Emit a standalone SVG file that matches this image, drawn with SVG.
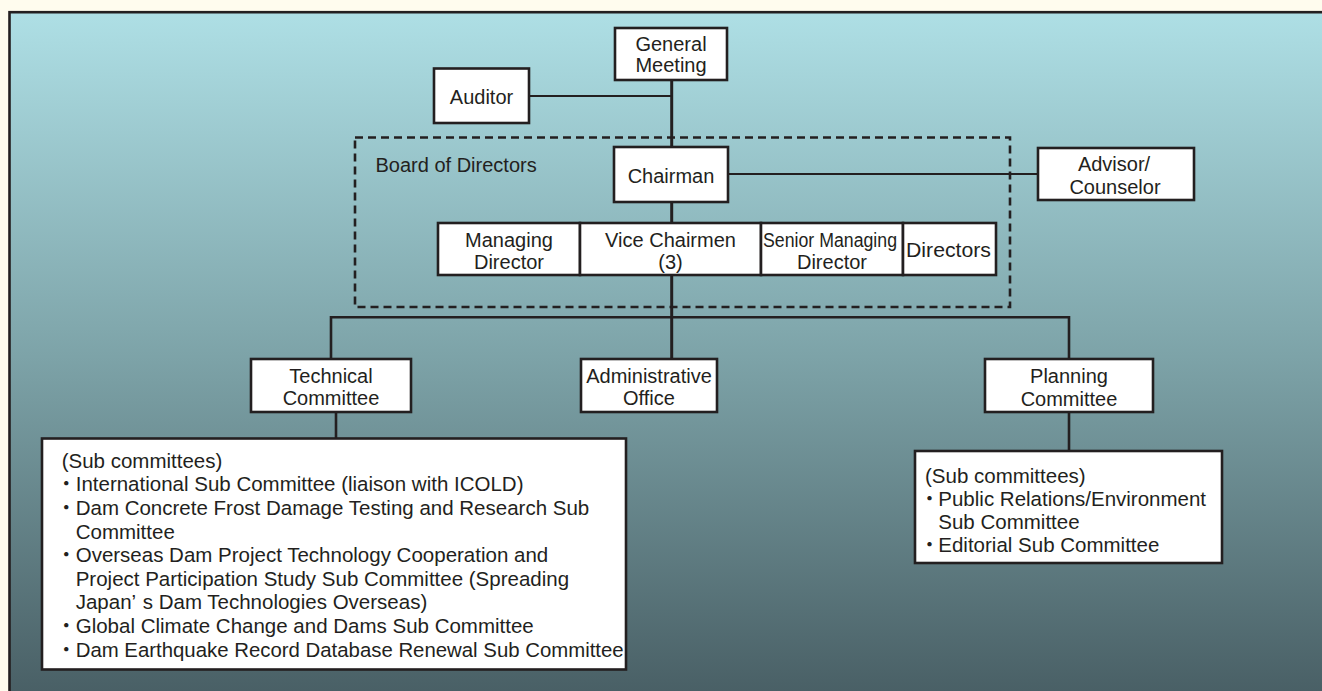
<svg xmlns="http://www.w3.org/2000/svg" width="1322" height="691" viewBox="0 0 1322 691">
<defs>
<linearGradient id="bg" x1="0" y1="13" x2="0" y2="700" gradientUnits="userSpaceOnUse">
<stop offset="0" stop-color="#AEDFE5"/>
<stop offset="0.5" stop-color="#7DA3A8"/>
<stop offset="1" stop-color="#485E64"/>
</linearGradient>
<style>
.box{fill:#ffffff;stroke:#231f20;stroke-width:2.6}
.t{font-family:"Liberation Sans","Noto Sans CJK JP",sans-serif;font-size:20px;fill:#231f20}
.s{font-size:20.5px}
.c{text-anchor:middle}
.thin{stroke:#231f20;stroke-width:1.8;fill:none}
.thick{stroke:#231f20;stroke-width:3;fill:none}
.mid{stroke:#231f20;stroke-width:2.6;fill:none}
.dash{stroke:#231f20;stroke-width:2.6;fill:none;stroke-dasharray:8 5}
</style>
</defs>
<rect x="0" y="0" width="1322" height="691" fill="#FFFCEE"/>
<rect x="9.5" y="12.2" width="1330" height="700" fill="url(#bg)" stroke="#231f20" stroke-width="2.6"/>

<g id="board-of-directors">
<rect class="dash" x="355" y="137.5" width="655" height="169.5"/>
<text class="t" x="375.5" y="172">Board of Directors</text>
</g>

<g id="connectors">
<line class="thick" x1="671.7" y1="80" x2="671.7" y2="147"/>
<line class="thin" x1="529" y1="96" x2="671.7" y2="96"/>
<line class="thin" x1="728" y1="174" x2="1038" y2="174"/>
<line class="thick" x1="671.7" y1="202" x2="671.7" y2="223"/>
<line class="thick" x1="671.7" y1="275" x2="671.7" y2="359"/>
<polyline class="mid" points="331,359 331,317.3 1069,317.3 1069,359"/>
<line class="mid" x1="336" y1="412" x2="336" y2="438.5"/>
<line class="mid" x1="1069" y1="412" x2="1069" y2="451"/>
</g>

<g id="general-meeting">
<rect class="box" x="615" y="28" width="112" height="52"/>
<text class="t c" x="671" y="50.5">General</text>
<text class="t c" x="671" y="71.5">Meeting</text>
</g>

<g id="auditor">
<rect class="box" x="434" y="68.5" width="95" height="54.5"/>
<text class="t c" x="481.5" y="104">Auditor</text>
</g>

<g id="chairman">
<rect class="box" x="614" y="147" width="114" height="55"/>
<text class="t c" x="671" y="182.7">Chairman</text>
</g>

<g id="advisor-counselor">
<rect class="box" x="1038" y="148" width="156" height="52"/>
<text class="t c" x="1114" y="170.7">Advisor/</text>
<text class="t c" x="1115" y="194">Counselor</text>
</g>

<g id="managing-director">
<rect class="box" x="438" y="223" width="142" height="52"/>
<text class="t c" x="509" y="246.7">Managing</text>
<text class="t c" x="509" y="269.3">Director</text>
</g>

<g id="vice-chairmen">
<rect class="box" x="580" y="223" width="181" height="52"/>
<text class="t c" x="670.5" y="246.7">Vice Chairmen</text>
<text class="t c" x="670.5" y="269.3">(3)</text>
</g>

<g id="senior-managing-director">
<rect class="box" x="761" y="223" width="142" height="52"/>
<text class="t" x="763" y="246.7" textLength="134" lengthAdjust="spacingAndGlyphs">Senior Managing</text>
<text class="t c" x="832" y="269.3">Director</text>
</g>

<g id="directors">
<rect class="box" x="903" y="223" width="93" height="52"/>
<text class="t" x="906" y="256.7" textLength="85" lengthAdjust="spacingAndGlyphs">Directors</text>
</g>

<g id="technical-committee">
<rect class="box" x="251" y="359" width="160" height="53"/>
<text class="t c" x="331" y="382.7">Technical</text>
<text class="t c" x="331" y="405">Committee</text>
</g>

<g id="administrative-office">
<rect class="box" x="581" y="359" width="136" height="53"/>
<text class="t c" x="649" y="382.7">Administrative</text>
<text class="t c" x="649" y="405">Office</text>
</g>

<g id="planning-committee">
<rect class="box" x="985" y="359" width="168" height="53"/>
<text class="t c" x="1069" y="383.3">Planning</text>
<text class="t c" x="1069" y="405.7">Committee</text>
</g>

<g id="technical-subcommittees">
<rect class="box" x="42" y="438.5" width="584" height="231"/>
<text class="t s" x="61.7" y="467.5">(Sub committees)</text>
<text class="t s" x="56" y="491.2">・</text>
<text class="t s" x="75.7" y="491.2">International Sub Committee (liaison with ICOLD)</text>
<text class="t s" x="56" y="514.8">・</text>
<text class="t s" x="75.7" y="514.8">Dam Concrete Frost Damage Testing and Research Sub</text>
<text class="t s" x="75.7" y="538.5">Committee</text>
<text class="t s" x="56" y="562.1">・</text>
<text class="t s" x="75.7" y="562.1">Overseas Dam Project Technology Cooperation and</text>
<text class="t s" x="75.7" y="585.8">Project Participation Study Sub Committee (Spreading</text>
<text class="t s" x="75.7" y="609.4">Japan’<tspan dx="7">s Dam Technologies Overseas)</tspan></text>
<text class="t s" x="56" y="633">・</text>
<text class="t s" x="75.7" y="633">Global Climate Change and Dams Sub Committee</text>
<text class="t s" x="56" y="656.7">・</text>
<text class="t s" x="75.7" y="656.7" textLength="548" lengthAdjust="spacingAndGlyphs">Dam Earthquake Record Database Renewal Sub Committee</text>
</g>

<g id="planning-subcommittees">
<rect class="box" x="915" y="451" width="307" height="112"/>
<text class="t s" x="925" y="482.7">(Sub committees)</text>
<text class="t s" x="919.3" y="505.5">・</text>
<text class="t s" x="938.3" y="505.5">Public Relations/Environment</text>
<text class="t s" x="938.3" y="529">Sub Committee</text>
<text class="t s" x="919.3" y="552.3">・</text>
<text class="t s" x="938.3" y="552.3">Editorial Sub Committee</text>
</g>
</svg>
